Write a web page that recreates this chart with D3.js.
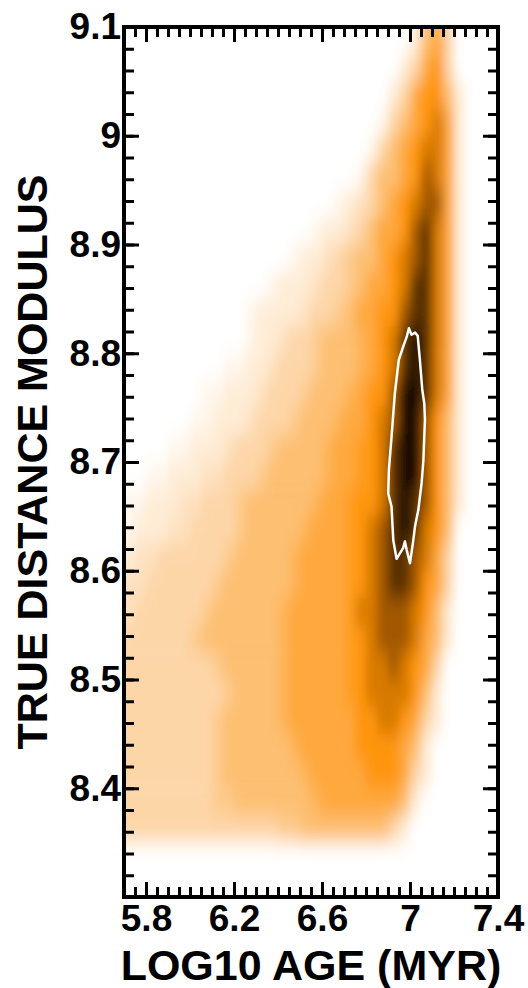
<!DOCTYPE html>
<html><head><meta charset="utf-8">
<script src="https://cdn.jsdelivr.net/npm/d3@7"></script>
<style>
html,body{margin:0;padding:0;background:#fff;}
svg{display:block;}
text{font-family:"Liberation Sans",Arial,Helvetica,sans-serif;font-weight:bold;fill:#000;}
</style></head>
<body><svg id="chart" width="528" height="988"></svg>
<script>
// ---- data ----
const xDomain = [5.7, 7.4];
const yDomain = [8.3, 9.1];
const xMajorTicks = [5.8, 6.2, 6.6, 7.0, 7.4];
const xMajorLabels = ["5.8", "6.2", "6.6", "7", "7.4"];
const yMajorTicks = [8.4, 8.5, 8.6, 8.7, 8.8, 8.9, 9.0, 9.1];
const yMajorLabels = ["8.4", "8.5", "8.6", "8.7", "8.8", "8.9", "9", "9.1"];
const xMinorStep = 0.05;
const yMinorStep = 0.02;
const xTitle = "LOG10 AGE (MYR)";
const yTitle = "TRUE DISTANCE MODULUS";

// density grid: columns = log age bins (5.70..7.40 step 0.05), rows = distance modulus bins (top 9.1 -> bottom 8.3 step 0.025)
// levels: digits 0-9, letters A..I = 0.5..8.5
const ageBinStart = 5.7, ageBinWidth = 0.05;
const dmBinTop = 9.1, dmBinHeight = 0.025;
const densityRows = [
 "0000000000" + "0000000000" + "0000001342" + "0000",
 "0000000000" + "0000000000" + "0000012452" + "0000",
 "0000000000" + "0000000000" + "0000124553" + "1000",
 "0000000000" + "0000000000" + "000A234564" + "1000",
 "0000000000" + "0000000000" + "00A2345664" + "1000",
 "0000000000" + "0000000000" + "0A23345764" + "1000",
 "0000000000" + "000000000A" + "1B23456774" + "1000",
 "0000000000" + "0000000A11" + "B234457864" + "1000",
 "0000000000" + "00000A11B2" + "C334567864" + "1000",
 "0000000000" + "000A111B22" + "C344568864" + "1000",
 "0000000000" + "0A1111B22C" + "3445578864" + "1000",
 "0000000000" + "0A11B22C33" + "3D45689864" + "1000",
 "000000000A" + "A11B222C33" + "3D45689864" + "1000",
 "0000000AA1" + "11B222C333" + "D455799864" + "1000",
 "000000AA11" + "1B222C333D" + "4456799753" + "1000",
 "0000AA111B" + "222C3333D4" + "4E56899753" + "1000",
 "00AA111BB2" + "22C33333D4" + "4E56899753" + "1000",
 "AA111BB222" + "C333333D44" + "E556898753" + "1000",
 "A111BB2222" + "C33333D444" + "E567898653" + "0000",
 "1BB222222C" + "33333D4444" + "E567887642" + "0000",
 "BB222222C3" + "33333D4444" + "E567887542" + "0000",
 "B222222C33" + "3333D44444" + "E667776531" + "0000",
 "222222C333" + "3333D44444" + "E567776431" + "0000",
 "22222222C3" + "3333D44444" + "E566765420" + "0000",
 "222222222C" + "3333D44444" + "E566665310" + "0000",
 "22222222C3" + "3333D44444" + "4556654210" + "0000",
 "22222222C3" + "33333D4444" + "4555543100" + "0000",
 "22222222C3" + "333333D444" + "4455542100" + "0000",
 "22222222CC" + "3333333D44" + "4444431000" + "0000",
 "2222222222" + "2222CC3333" + "3333210000" + "0000",
 "0000000000" + "0000000000" + "0000000000" + "0000",
 "0000000000" + "0000000000" + "0000000000" + "0000"
];
const halfLevels = "ABCDEFGHI";
const levelOf = ch => halfLevels.includes(ch) ? halfLevels.indexOf(ch) + 0.5 : +ch;

// white contour (log age, distance modulus)
const contourAge = [6.995,7.007,7.023,7.035,7.045,7.056,7.065,7.068,7.061,7.053,7.038,7.023,7.015,7.000,6.985,6.977,6.969,6.939,6.924,6.916,6.901,6.904,6.916,6.931,6.949,6.969,6.985];
const contourDM  = [8.823,8.817,8.819,8.816,8.794,8.766,8.754,8.739,8.702,8.681,8.656,8.641,8.628,8.607,8.619,8.627,8.621,8.611,8.628,8.659,8.671,8.693,8.723,8.763,8.794,8.806,8.815];

// ---- layout ----
const L = 124, R = 498, T = 27, B = 897;
const svg = d3.select("#chart");
const x = d3.scaleLinear().domain(xDomain).range([L, R]);
const y = d3.scaleLinear().domain(yDomain).range([B, T]);
const color = d3.scaleLinear()
  .domain([0,1,2,3,4,5,6,7,8,9])
  .range(["#ffffff","#feecd6","#fdd6a8","#fdbf72","#fea83c","#ff950a","#d87a00","#a35900","#5a3000","#1a0800"])
  .clamp(true);

const defs = svg.append("defs");
defs.append("clipPath").attr("id","plotclip").append("rect")
  .attr("x", L).attr("y", T).attr("width", R-L).attr("height", B-T);
const f = defs.append("filter").attr("id","blur")
  .attr("filterUnits","userSpaceOnUse")
  .attr("x",0).attr("y",0).attr("width",528).attr("height",988);
f.append("feGaussianBlur").attr("stdDeviation","5 10");

const cells = [];
densityRows.forEach((row, j) => {
  for (let i = 0; i < row.length; i++) {
    cells.push({
      a0: ageBinStart + i*ageBinWidth, a1: ageBinStart + (i+1)*ageBinWidth,
      d0: dmBinTop - (j+1)*dmBinHeight, d1: dmBinTop - j*dmBinHeight,
      v: levelOf(row[i]), i: i, j: j
    });
  }
});
const nCols = densityRows[0].length;
const pad = 24;
const heat = svg.append("g").attr("clip-path","url(#plotclip)")
  .append("g").attr("filter","url(#blur)");
heat.selectAll("rect").data(cells).join("rect")
  .attr("x", d => x(d.a0) - (d.i === 0 ? pad : 0))
  .attr("width", d => x(d.a1) - x(d.a0) + (d.i === 0 ? pad : 0) + (d.i === nCols-1 ? pad : 0) + 0.5)
  .attr("y", d => y(d.d1) - (d.j === 0 ? pad : 0))
  .attr("height", d => y(d.d0) - y(d.d1) + (d.j === 0 ? pad : 0) + 0.5)
  .attr("fill", d => color(d.v));

// contour
const pts = contourAge.map((a, k) => [a, contourDM[k]]);
svg.append("path")
  .attr("d", d3.line().x(d => x(d[0])).y(d => y(d[1])).curve(d3.curveLinearClosed)(pts))
  .attr("fill","none").attr("stroke","#fff").attr("stroke-width",2.5).attr("stroke-linejoin","round");

// ---- axes ----
const xMinor = d3.range(Math.round((xDomain[1]-xDomain[0])/xMinorStep)+1).map(k => +(xDomain[0] + k*xMinorStep).toFixed(3));
const yMinor = d3.range(Math.round((yDomain[1]-yDomain[0])/yMinorStep)+1).map(k => +(yDomain[0] + k*yMinorStep).toFixed(3));
const MAJ = 15, MIN = 10;

function styleAxis(g){
  g.select(".domain").remove();
  g.selectAll(".tick line").attr("stroke","#000").attr("stroke-width",3);
}
// bottom
svg.append("g").attr("transform",`translate(0,${B})`)
  .call(d3.axisBottom(x).tickValues(xMinor).tickSize(-MIN).tickSizeOuter(0).tickFormat(""))
  .call(styleAxis);
const xb = svg.append("g").attr("transform",`translate(0,${B})`)
  .call(d3.axisBottom(x).tickValues(xMajorTicks).tickSize(-MAJ).tickSizeOuter(0).tickPadding(8)
    .tickFormat((d,k) => xMajorLabels[k]))
  .call(styleAxis);
xb.selectAll("text").attr("font-size",37).attr("font-family",null).attr("fill","#000");
// top
svg.append("g").attr("transform",`translate(0,${T})`)
  .call(d3.axisTop(x).tickValues(xMinor).tickSize(-MIN).tickSizeOuter(0).tickFormat(""))
  .call(styleAxis);
svg.append("g").attr("transform",`translate(0,${T})`)
  .call(d3.axisTop(x).tickValues(xMajorTicks).tickSize(-MAJ).tickSizeOuter(0).tickFormat(""))
  .call(styleAxis);
// left
svg.append("g").attr("transform",`translate(${L},0)`)
  .call(d3.axisLeft(y).tickValues(yMinor).tickSize(-MIN).tickSizeOuter(0).tickFormat(""))
  .call(styleAxis);
const yl = svg.append("g").attr("transform",`translate(${L},0)`)
  .call(d3.axisLeft(y).tickValues(yMajorTicks).tickSize(-MAJ).tickSizeOuter(0).tickPadding(3)
    .tickFormat((d,k) => yMajorLabels[k]))
  .call(styleAxis);
yl.selectAll("text").attr("font-size",37).attr("font-family",null).attr("fill","#000");
// right
svg.append("g").attr("transform",`translate(${R},0)`)
  .call(d3.axisRight(y).tickValues(yMinor).tickSize(-MIN).tickSizeOuter(0).tickFormat(""))
  .call(styleAxis);
svg.append("g").attr("transform",`translate(${R},0)`)
  .call(d3.axisRight(y).tickValues(yMajorTicks).tickSize(-MAJ).tickSizeOuter(0).tickFormat(""))
  .call(styleAxis);

// frame
svg.append("rect").attr("x",L).attr("y",T).attr("width",R-L).attr("height",B-T)
  .attr("fill","none").attr("stroke","#000").attr("stroke-width",4);

// titles
svg.append("text").attr("x",(L+R)/2).attr("y",980).attr("text-anchor","middle")
  .attr("font-size",43).text(xTitle);
svg.append("text").attr("transform",`translate(47,${(T+B)/2}) rotate(-90)`)
  .attr("text-anchor","middle").attr("font-size",43).text(yTitle);
</script>
</body></html>
